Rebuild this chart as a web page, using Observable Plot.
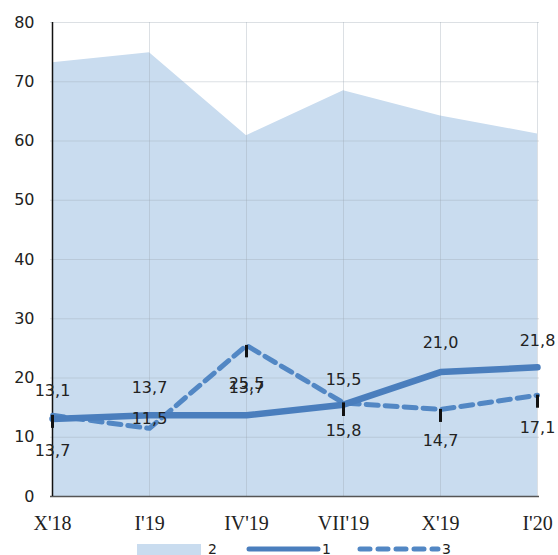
<!DOCTYPE html>
<html>
<head>
<meta charset="utf-8">
<script src="https://cdn.jsdelivr.net/npm/d3@7"></script>
<script src="https://cdn.jsdelivr.net/npm/@observablehq/plot@0.6"></script>
<style>
  html, body { margin: 0; padding: 0; background: #fff; }
  #wrap { width: 558px; height: 555px; overflow: hidden; position: relative; }
  #wrap svg { display: block; }
</style>
</head>
<body>
<div id="wrap"></div>
<script>
const categories = ["X'18", "I'19", "IV'19", "VII'19", "X'19", "I'20"];
const series2 = [73.2, 74.9, 60.9, 68.5, 64.2, 61.2];
const series1 = [13.1, 13.7, 13.7, 15.5, 21.0, 21.8];
const series3 = [13.7, 11.5, 25.5, 15.8, 14.7, 17.1];
const series3Bar = [2.2, 0, 2.1, 2.3, 2.2, 2.2];
const yTicks = [0, 10, 20, 30, 40, 50, 60, 70, 80];
const legendLabels = ["2", "1", "3"];

const rows = categories.map((c, i) => ({c, i, s1: series1[i], s2: series2[i], s3: series3[i], e3: series3Bar[i]}));
const fmt = v => v.toFixed(1).replace(".", ",");

const blueLine = "#4a7ebd";
const blueDash = "#5287c4";
const areaFill = "#c9dcef";
const sans = "DejaVu Sans, Verdana, sans-serif";
const serif = "Liberation Serif, Times New Roman, serif";

const s1Dy = [-28, -27, -27, -25, -29, -26];
const s3Dy = [36, -9, 38, 28, 31, 33];

const textMarks = [];
rows.forEach((r, i) => {
  textMarks.push(Plot.text([r], {x: "c", y: "s1", text: d => fmt(d.s1), dy: s1Dy[i],
    textAnchor: "middle", fontSize: 16, fontFamily: sans, fill: "#222"}));
  textMarks.push(Plot.text([r], {x: "c", y: "s3", text: d => fmt(d.s3), dy: s3Dy[i],
    textAnchor: "middle", fontSize: 16, fontFamily: sans, fill: "#222"}));
});

const chart = Plot.plot({
  width: 558,
  height: 536,
  marginLeft: 50,
  marginRight: 19,
  marginTop: 22,
  marginBottom: 40,
  style: {background: "#fff", overflow: "visible"},
  x: {type: "point", domain: categories, padding: 0, label: null},
  y: {domain: [0, 80], label: null},
  marks: [
    Plot.areaY(rows, {x: "c", y: "s2", fill: areaFill}),
    Plot.gridX(categories, {stroke: "#9aa5b1", strokeOpacity: 0.35}),
    Plot.gridY(yTicks, {stroke: "#9aa5b1", strokeOpacity: 0.35}),
    Plot.ruleY([0], {stroke: "#555", strokeWidth: 1.5}),
    Plot.ruleX([categories[0]], {stroke: "#111", strokeWidth: 1.5}),
    Plot.line(rows, {x: "c", y: "s3", stroke: blueDash, strokeWidth: 5, strokeDasharray: "12,7", curve: "linear"}),
    Plot.line(rows, {x: "c", y: "s1", stroke: blueLine, strokeWidth: 6.5, curve: "linear"}),
    Plot.ruleX(rows.filter(d => d.e3 > 0), {x: "c", y1: "s3", y2: d => d.s3 - d.e3, stroke: "#111", strokeWidth: 3}),
    ...textMarks,
    Plot.axisY(yTicks, {tickSize: 0, tickPadding: 16, fontSize: 16, fontFamily: sans, fill: "#222", label: null}),
    Plot.axisX(categories, {tickSize: 0, tickPadding: 19, fontSize: 20, fontFamily: serif, fill: "#222", label: null})
  ]
});
document.getElementById("wrap").appendChild(chart);

// Legend below the chart
const ns = "http://www.w3.org/2000/svg";
const lg = document.createElementNS(ns, "svg");
lg.setAttribute("id", "legend");
lg.setAttribute("width", 558);
lg.setAttribute("height", 19);
const items = [
  {label: legendLabels[0], kind: "area", x0: 137, x1: 201, tx: 208},
  {label: legendLabels[1], kind: "solid", x0: 249, x1: 318, tx: 322},
  {label: legendLabels[2], kind: "dash", x0: 360, x1: 438, tx: 442}
];
const cy = 13;
items.forEach(it => {
  if (it.kind === "area") {
    const r = document.createElementNS(ns, "rect");
    r.setAttribute("x", it.x0); r.setAttribute("y", cy - 5);
    r.setAttribute("width", it.x1 - it.x0); r.setAttribute("height", 11);
    r.setAttribute("fill", areaFill);
    lg.appendChild(r);
  } else {
    const l = document.createElementNS(ns, "line");
    l.setAttribute("x1", it.x0); l.setAttribute("x2", it.x1);
    l.setAttribute("y1", cy); l.setAttribute("y2", cy);
    l.setAttribute("stroke", it.kind === "solid" ? blueLine : blueDash);
    l.setAttribute("stroke-width", 5);
    l.setAttribute("stroke-linecap", "round");
    if (it.kind === "dash") l.setAttribute("stroke-dasharray", "10,8");
    lg.appendChild(l);
  }
  const t = document.createElementNS(ns, "text");
  t.setAttribute("x", it.tx); t.setAttribute("y", 17.5);
  t.setAttribute("font-family", sans); t.setAttribute("font-size", 14);
  t.setAttribute("fill", "#222");
  t.textContent = it.label;
  lg.appendChild(t);
});
document.getElementById("wrap").appendChild(lg);
</script>
</body>
</html>
